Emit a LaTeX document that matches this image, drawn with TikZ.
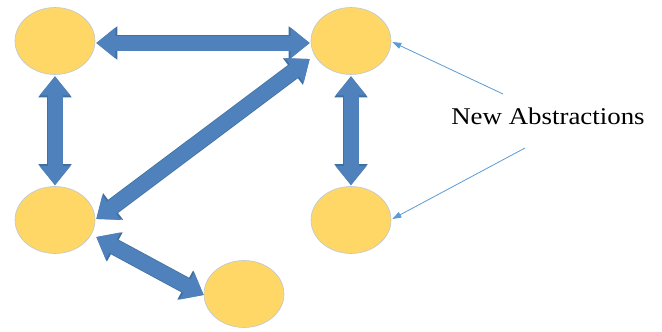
\documentclass[tikz,border=0pt]{standalone}
\usepackage{fontspec}
\setmainfont{Liberation Serif}
\usetikzlibrary{shapes.geometric,arrows.meta,calc}
\definecolor{blk}{HTML}{4F81BD}
\definecolor{blkedge}{HTML}{41709F}
\definecolor{gold}{HTML}{FED766}
\definecolor{goldedge}{HTML}{BCC8D6}
\definecolor{thinblue}{HTML}{5B9BD5}
\begin{document}
\begin{tikzpicture}[x=1pt,y=-1pt,
  state/.style={ellipse, fill=gold, draw=goldedge, line width=0.6pt,
    minimum width=80pt, minimum height=67pt, inner sep=0pt},
  bigarrowout/.style={draw=blkedge, line width=16.5pt,
    {Triangle[width=32pt,length=21pt]}-{Triangle[width=32pt,length=21pt]}},
  bigarrow/.style={draw=blk, line width=15pt,
    {Triangle[width=29.5pt,length=19pt]}-{Triangle[width=29.5pt,length=19pt]}},
  pointer/.style={draw=thinblue, line width=0.8pt, -{Triangle[width=6pt,length=9pt]}},
  label/.style={font=\fontsize{24}{28}\selectfont, inner sep=0pt}]
\useasboundingbox (0,0) rectangle (662,332);
\fill[white] (0,0) rectangle (662,332);

\node[state] (A) at (55,41) {};
\node[state] (B) at (351,41) {};
\node[state] (C) at (55,220) {};
\node[state] (D) at (351,220) {};
\node[state] (E) at (244,294) {};

\node[label, anchor=base] (L) at (548,124) {\scalebox{1.12}[1]{New Abstractions}};

\coordinate (AB1) at ($(A.east)+(1,2)$);
\coordinate (AB2) at ($(B.west)+(-1,2)$);
\coordinate (AC1) at ($(A.south)+(0,1.5)$);
\coordinate (AC2) at ($(C.north)+(0,-1)$);
\coordinate (BD1) at ($(B.south)+(0,1.5)$);
\coordinate (BD2) at ($(D.north)+(0,-1)$);
\coordinate (BC1) at ($(B.west)+(-1,18)$);
\coordinate (BC2) at ($(C.east)+(1,-1)$);
\coordinate (CE1) at ($(C.east)+(1,17)$);
\coordinate (CE2) at ($(E.west)+(0,1)$);

\foreach \p/\q in {AB1/AB2, AC1/AC2, BD1/BD2, BC1/BC2, CE1/CE2} {
  \draw[bigarrowout] (\p) -- (\q);
  \draw[bigarrow] (\p) -- (\q);
}

\coordinate (P1) at (503,94);
\coordinate (P2) at (525,148);
\draw[pointer] (P1) -- ($(B.east)+(1,1)$);
\draw[pointer] (P2) -- ($(D.east)+(1,-1)$);
\end{tikzpicture}
\end{document}
